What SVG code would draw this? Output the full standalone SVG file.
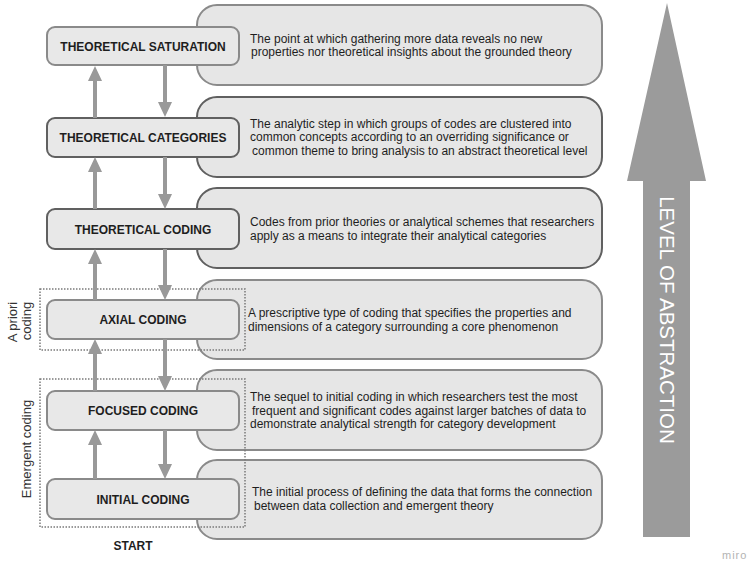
<svg xmlns="http://www.w3.org/2000/svg" width="752" height="563" viewBox="0 0 752 563">
  <style>
    .desc { fill: #e6e6e6; stroke: #8a8a8a; stroke-width: 2; }
    .desc.dark { stroke: #606060; }
    .step { fill: #e8e8e8; stroke: #8a8a8a; stroke-width: 2; }
    .step.dark { stroke: #606060; }
    .label { font-family: "Liberation Sans", Arial, sans-serif; font-size: 12px; font-weight: bold; fill: #1e1e1e; text-anchor: middle; }
    .txt { font-family: "Liberation Sans", Arial, sans-serif; font-size: 12px; fill: #1e1e1e; }
    .side { font-family: "Liberation Sans", Arial, sans-serif; font-size: 13px; fill: #333; text-anchor: middle; }
    .group { fill: none; stroke: #7a7a7a; stroke-width: 1.5; stroke-dasharray: 1.5 1.5; }
    .link { stroke: #999; stroke-width: 4; fill: none; marker-end: url(#head); }
  </style>
  <defs>
    <marker id="head" markerUnits="userSpaceOnUse" markerWidth="15" markerHeight="14" refX="2" refY="7" orient="auto">
      <path d="M0,0 L15,7 L0,14 z" fill="#999"/>
    </marker>
  </defs>

  <rect width="752" height="563" fill="#ffffff"/>

  <!-- description panels -->
  <g id="desc-saturation">
    <rect class="desc" x="197" y="5" width="405" height="80" rx="20"/>
    <text class="txt"><tspan x="250" y="42.5">The point at which gathering more data reveals no new</tspan><tspan x="251" y="56">properties nor theoretical insights about the grounded theory</tspan></text>
  </g>
  <g id="desc-categories">
    <rect class="desc dark" x="197" y="97" width="405" height="80" rx="20"/>
    <text class="txt"><tspan x="250" y="127.5">The analytic step in which groups of codes are clustered into</tspan><tspan x="250" y="141">common concepts according to an overriding significance or</tspan><tspan x="252" y="154.5">common theme to bring analysis to an abstract theoretical level</tspan></text>
  </g>
  <g id="desc-theoretical">
    <rect class="desc dark" x="197" y="188" width="405" height="80" rx="20"/>
    <text class="txt"><tspan x="250" y="226">Codes from prior theories or analytical schemes that researchers</tspan><tspan x="250" y="239.5">apply as a means to integrate their analytical categories</tspan></text>
  </g>
  <g id="desc-axial">
    <rect class="desc" x="197" y="280" width="405" height="79" rx="20"/>
    <text class="txt"><tspan x="248" y="317">A prescriptive type of coding that specifies the properties and</tspan><tspan x="248" y="330.5">dimensions of a category surrounding a core phenomenon</tspan></text>
  </g>
  <g id="desc-focused">
    <rect class="desc" x="197" y="370" width="405" height="80" rx="20"/>
    <text class="txt"><tspan x="250" y="401">The sequel to initial coding in which researchers test the most</tspan><tspan x="252" y="414.5">frequent and significant codes against larger batches of data to</tspan><tspan x="250" y="428">demonstrate analytical strength for category development</tspan></text>
  </g>
  <g id="desc-initial">
    <rect class="desc" x="197" y="460" width="405" height="79" rx="20"/>
    <text class="txt"><tspan x="252" y="496">The initial process of defining the data that forms the connection</tspan><tspan x="254" y="509.5">between data collection and emergent theory</tspan></text>
  </g>

  <!-- coding steps -->
  <g id="theoretical-saturation">
    <rect class="step" x="47" y="27" width="192" height="38" rx="8"/>
    <text class="label" x="143" y="50.5">THEORETICAL SATURATION</text>
  </g>
  <g id="theoretical-categories">
    <rect class="step dark" x="47" y="118" width="192" height="39" rx="8"/>
    <text class="label" x="143" y="142">THEORETICAL CATEGORIES</text>
  </g>
  <g id="theoretical-coding">
    <rect class="step dark" x="47" y="209" width="192" height="40" rx="8"/>
    <text class="label" x="143" y="233.5">THEORETICAL CODING</text>
  </g>
  <g id="axial-coding">
    <rect class="step" x="47" y="300" width="192" height="39" rx="8"/>
    <text class="label" x="143" y="324">AXIAL CODING</text>
  </g>
  <g id="focused-coding">
    <rect class="step" x="47" y="391" width="192" height="39" rx="8"/>
    <text class="label" x="143" y="415">FOCUSED CODING</text>
  </g>
  <g id="initial-coding">
    <rect class="step" x="47" y="479" width="192" height="40" rx="8"/>
    <text class="label" x="143" y="503.5">INITIAL CODING</text>
  </g>

  <!-- coding-type groupings -->
  <g id="a-priori-group">
    <rect class="group" x="40" y="289" width="205" height="61"/>
    <text class="side" transform="translate(16.5 322) rotate(-90)">A priori</text>
    <text class="side" transform="translate(31 321) rotate(-90)">coding</text>
  </g>
  <g id="emergent-group">
    <rect class="group" x="40" y="379" width="205" height="148"/>
    <text class="side" transform="translate(31 449) rotate(-90)">Emergent coding</text>
  </g>

  <!-- up and down transitions between steps -->
  <g id="connectors">
    <line class="link" x1="95" y1="118" x2="95" y2="79"/>
    <line class="link" x1="165" y1="65" x2="165" y2="104"/>
    <line class="link" x1="95" y1="209" x2="95" y2="170"/>
    <line class="link" x1="165" y1="157" x2="165" y2="196"/>
    <line class="link" x1="95" y1="300" x2="95" y2="262"/>
    <line class="link" x1="165" y1="249" x2="165" y2="287"/>
    <line class="link" x1="95" y1="391" x2="95" y2="352"/>
    <line class="link" x1="165" y1="339" x2="165" y2="378"/>
    <line class="link" x1="95" y1="479" x2="95" y2="443"/>
    <line class="link" x1="165" y1="430" x2="165" y2="466"/>
  </g>

  <text class="label" x="133" y="549.5">START</text>

  <!-- abstraction scale -->
  <g id="level-of-abstraction">
    <polygon points="667,3 706,181 690,181 690,537 643,537 643,181 627,181" fill="#9b9b9b"/>
    <text transform="translate(660 320) rotate(90)" text-anchor="middle" font-family="'Liberation Sans', Arial, sans-serif" font-size="20.5" fill="#ffffff">LEVEL OF ABSTRACTION</text>
  </g>

  <text x="722" y="559" font-family="'Liberation Sans', Arial, sans-serif" font-size="11" letter-spacing="1" fill="#b3b3b3">miro</text>
</svg>
